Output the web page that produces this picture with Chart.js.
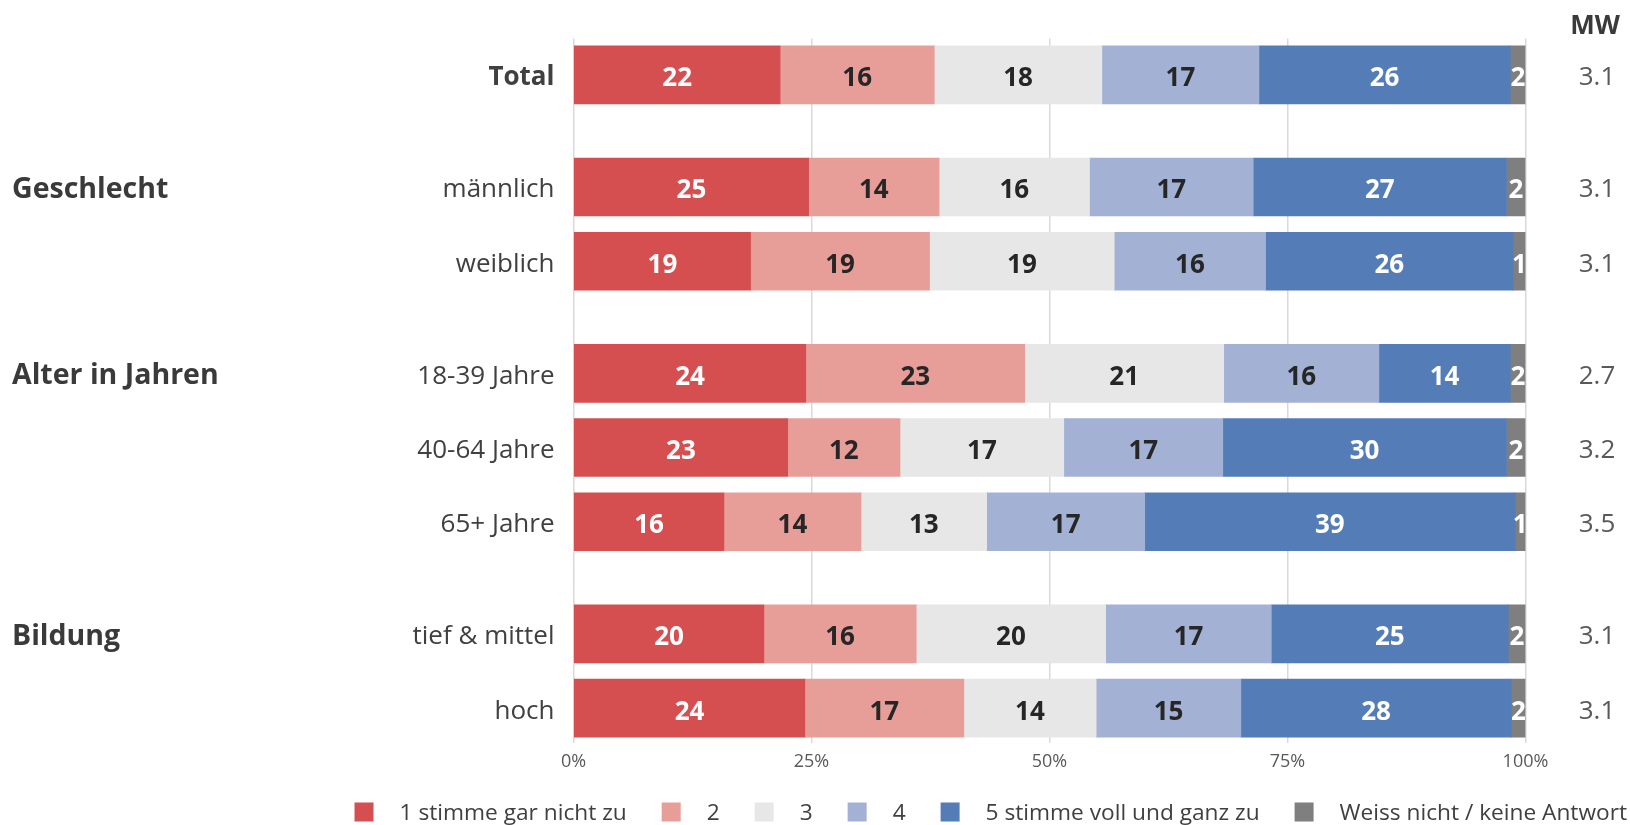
<!DOCTYPE html>
<html lang="de">
<head>
<meta charset="utf-8">
<title>Zustimmung nach Gruppen</title>
<script src="https://cdn.jsdelivr.net/npm/chart.js@4.4.1/dist/chart.umd.min.js"></script>
<style>
    html, body { margin: 0; padding: 0; background: #fff; overflow: hidden; }
    .chart-box { position: relative; width: 1630px; height: 825px; }
</style>
</head>
<body>
<div class="chart-box"><canvas id="chart"></canvas></div>
<script>
// Zeilen und Gruppen
const categories = ['Total', 'männlich', 'weiblich', '18-39 Jahre', '40-64 Jahre', '65+ Jahre', 'tief & mittel', 'hoch'];
const rowGroup = [0, 1, 1, 2, 2, 2, 3, 3];
const groupNames = ['', 'Geschlecht', 'Alter in Jahren', 'Bildung'];

// Antworten in %
const seriesNames = ['1 stimme gar nicht zu', '2', '3', '4', '5 stimme voll und ganz zu', 'Weiss nicht / keine Antwort'];
const gar_nicht = [21.7, 24.7, 18.6, 24.4, 22.5, 15.8, 20.0, 24.3];
const zwei = [16.2, 13.7, 18.8, 23.0, 11.8, 14.4, 16.0, 16.7];
const drei = [17.6, 15.8, 19.4, 20.9, 17.2, 13.2, 19.9, 13.9];
const vier = [16.5, 17.2, 15.9, 16.3, 16.7, 16.6, 17.4, 15.2];
const voll = [26.4, 26.6, 26.0, 13.8, 29.8, 38.9, 24.9, 28.4];
const weiss_nicht = [1.6, 2.0, 1.3, 1.6, 2.0, 1.1, 1.8, 1.5];

// Mittelwerte
const mw = ['3.1', '3.1', '3.1', '2.7', '3.2', '3.5', '3.1', '3.1'];
const xTicks = [0, 25, 50, 75, 100];

const colors = ['#d54f51', '#e89e98', '#e7e7e7', '#a2b1d4', '#547db8', '#7f7f7f'];
const labelColors = ['#ffffff', '#262626', '#262626', '#262626', '#ffffff', '#ffffff'];
const FONT = "'Open Sans', 'Noto Sans', sans-serif";
const GROUP_GAP = 0.51;
const TEXT_DY = 3; // Open Sans sitzt etwas zu hoch

// y-Position jeder Zeile (Abstand zwischen Gruppen)
const rowPos = categories.map((c, i) => i + rowGroup[i] * GROUP_GAP);

const allSeries = [gar_nicht, zwei, drei, vier, voll, weiss_nicht];

const datasets = allSeries.map((serie, k) => ({
    label: seriesNames[k],
    data: serie.map((v, i) => ({ x: v, y: rowPos[i] })),
    backgroundColor: colors[k],
    borderWidth: 0,
    barThickness: 58
}));

// Zahlen in den Balken
const barLabels = {
    id: 'barLabels',
    afterDatasetsDraw(chart) {
        const ctx = chart.ctx;
        ctx.save();
        ctx.font = `bold 26px ${FONT}`;
        ctx.textAlign = 'center';
        ctx.textBaseline = 'middle';
        chart.data.datasets.forEach((ds, k) => {
            const meta = chart.getDatasetMeta(k);
            meta.data.forEach((bar, i) => {
                ctx.fillStyle = labelColors[k];
                ctx.fillText(Math.round(allSeries[k][i]), (bar.x + bar.base) / 2, bar.y + TEXT_DY + 1);
            });
        });
        ctx.restore();
    }
};

// Gruppennamen links, MW rechts, Legende unten
const extras = {
    id: 'extras',
    afterDraw(chart) {
        const ctx = chart.ctx;
        const y = chart.scales.y;
        ctx.save();
        ctx.textBaseline = 'middle';

        ctx.font = `bold 28.5px ${FONT}`;
        ctx.fillStyle = '#3a3a3a';
        ctx.textAlign = 'left';
        groupNames.forEach((name, g) => {
            if (!name) return;
            const first = rowGroup.indexOf(g);
            ctx.fillText(name, 12, y.getPixelForValue(rowPos[first]) + TEXT_DY);
        });

        ctx.textAlign = 'center';
        ctx.font = `bold 26px ${FONT}`;
        ctx.fillStyle = '#3a3a3a';
        ctx.fillText('MW', 1595, 27);
        ctx.font = `26px ${FONT}`;
        ctx.fillStyle = '#595959';
        mw.forEach((v, i) => ctx.fillText(v, 1597, y.getPixelForValue(rowPos[i]) + TEXT_DY));

        // Legende rechtsbündig
        ctx.font = `22.7px ${FONT}`;
        ctx.textAlign = 'left';
        let x = 1627;
        const ly = 812;
        for (let k = seriesNames.length - 1; k >= 0; k--) {
            const w = ctx.measureText(seriesNames[k]).width;
            const tx = x - w;
            ctx.fillStyle = '#404040';
            ctx.fillText(seriesNames[k], tx, ly + 2);
            ctx.fillStyle = colors[k];
            ctx.fillRect(tx - 26 - 19, ly - 9.5, 19, 19);
            x = tx - 26 - 19 - 35;
        }
        ctx.restore();
    }
};

new Chart(document.getElementById('chart'), {
    type: 'bar',
    data: { datasets },
    options: {
        indexAxis: 'y',
        responsive: true,
        maintainAspectRatio: false,
        animation: false,
        layout: { padding: { top: 38.5, right: 104.5, bottom: 52, left: 0 } },
        plugins: {
            legend: { display: false },
            tooltip: { enabled: false }
        },
        scales: {
            x: {
                type: 'linear',
                stacked: true,
                min: 0,
                max: 100,
                afterBuildTicks: (scale) => { scale.ticks = xTicks.map(v => ({ value: v })); },
                afterFit: (scale) => { scale.height = 30; },
                ticks: {
                    padding: 8,
                    color: '#595959',
                    font: { family: FONT, size: 18 },
                    callback: (v) => v + '%'
                },
                grid: { color: '#d9d9d9', lineWidth: 1.5, drawTicks: false },
                border: { display: false }
            },
            y: {
                type: 'linear',
                stacked: true,
                reverse: true,
                offset: false,
                min: -0.49,
                max: rowPos[rowPos.length - 1] + 0.47,
                afterBuildTicks: (scale) => { scale.ticks = rowPos.map(v => ({ value: v })); },
                afterFit: (scale) => { scale.width = 573.5; },
                ticks: {
                    padding: 11,
                    labelOffset: TEXT_DY,
                    color: '#404040',
                    font: (c) => ({ family: FONT, size: 26, weight: c.index === 0 ? 'bold' : 'normal' }),
                    callback: (v, i) => categories[i]
                },
                grid: { display: false, offset: false },
                border: { display: false }
            }
        }
    },
    plugins: [barLabels, extras]
});
</script>
</body>
</html>
